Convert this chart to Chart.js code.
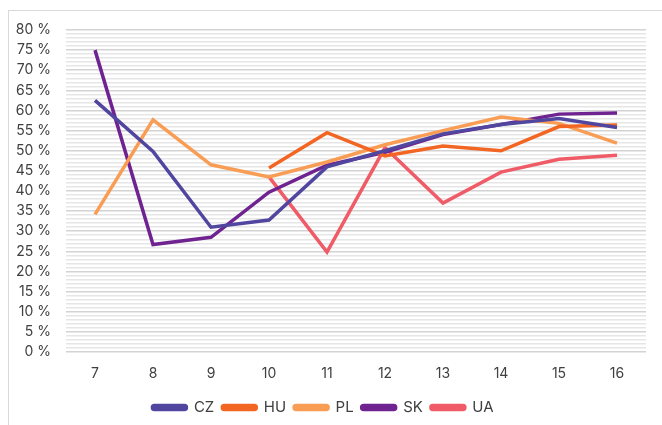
<!DOCTYPE html>
<html lang="en">
<head>
    <meta charset="UTF-8">
    <title>Share by grade</title>
    <script src="https://cdn.jsdelivr.net/npm/chart.js"></script>
    <style>
        html, body {
            margin: 0;
            padding: 0;
            background: #fff;
        }
        .frame {
            position: absolute;
            left: 8px;
            top: 10px;
            width: 700px;
            height: 460px;
            border-top: 1px solid #d9d9d9;
            border-left: 1px solid #d9d9d9;
        }
        .chart-container {
            position: absolute;
            left: 0;
            top: 0;
            width: 662px;
            height: 425px;
        }
    </style>
</head>
<body>
    <div class="frame"></div>
    <div class="chart-container">
        <canvas id="myChart"></canvas>
    </div>
    <script>
        const grades = ['7', '8', '9', '10', '11', '12', '13', '14', '15', '16'];
        const cz = [62.5, 49.8, 31, 32.8, 46, 50, 54.2, 56.5, 58, 55.8];
        const hu = [null, null, null, 45.7, 54.5, 48.7, 51.2, 50, 56, 56.4];
        const pl = [34.2, 57.7, 46.5, 43.5, 47.2, 51.5, 55, 58.4, 56.8, 51.9];
        const sk = [75, 26.7, 28.5, 39.7, 46.4, 49.6, 54, 56.5, 59.1, 59.4];
        const ua = [null, null, null, 43.5, 24.8, 50.8, 37, 44.7, 47.9, 48.9];

        const fontFamily = 'Inter, "Noto Sans", sans-serif';

        function series(label, values, color) {
            return {
                label: label,
                data: values,
                borderColor: color,
                backgroundColor: color,
                borderWidth: 3.5,
                pointRadius: 0,
                tension: 0,
                spanGaps: false
            };
        }

        const data = {
            labels: grades,
            datasets: [
                series('CZ', cz, '#51469f'),
                series('HU', hu, '#f26522'),
                series('PL', pl, '#f99d55'),
                series('SK', sk, '#6f2390'),
                series('UA', ua, '#ef5b66')
            ]
        };

        const config = {
            type: 'line',
            data: data,
            options: {
                responsive: true,
                maintainAspectRatio: false,
                animation: false,
                layout: {
                    padding: { top: 30, right: 16, bottom: 0, left: 0 }
                },
                plugins: {
                    legend: {
                        position: 'bottom',
                        labels: {
                            boxWidth: 34,
                            boxHeight: 4,
                            useBorderRadius: true,
                            borderRadius: 2,
                            padding: 8,
                            color: '#404040',
                            font: { family: fontFamily, size: 15 }
                        }
                    },
                    tooltip: { enabled: false }
                },
                scales: {
                    x: {
                        offset: true,
                        grid: { display: false },
                        border: { display: false },
                        ticks: {
                            color: '#404040',
                            padding: 5,
                            font: { family: fontFamily, size: 14 }
                        },
                        afterFit: function(scale) {
                            scale.height = 40;
                        }
                    },
                    y: {
                        min: 0,
                        max: 80,
                        border: { display: false },
                        grid: {
                            drawTicks: false,
                            lineWidth: 1.6,
                            color: function(ctx) {
                                return ctx.tick && ctx.tick.value % 5 === 0 ? '#d3d3d3' : '#e6e6e6';
                            }
                        },
                        ticks: {
                            stepSize: 1,
                            autoSkip: false,
                            maxTicksLimit: 100,
                            color: '#404040',
                            padding: 15,
                            font: { family: fontFamily, size: 14 },
                            callback: function(value) {
                                return value % 5 === 0 ? value + ' %' : '';
                            }
                        },
                        afterFit: function(scale) {
                            scale.width = 66;
                        }
                    }
                }
            }
        };

        const myChart = new Chart(document.getElementById('myChart'), config);
    </script>
</body>
</html>
